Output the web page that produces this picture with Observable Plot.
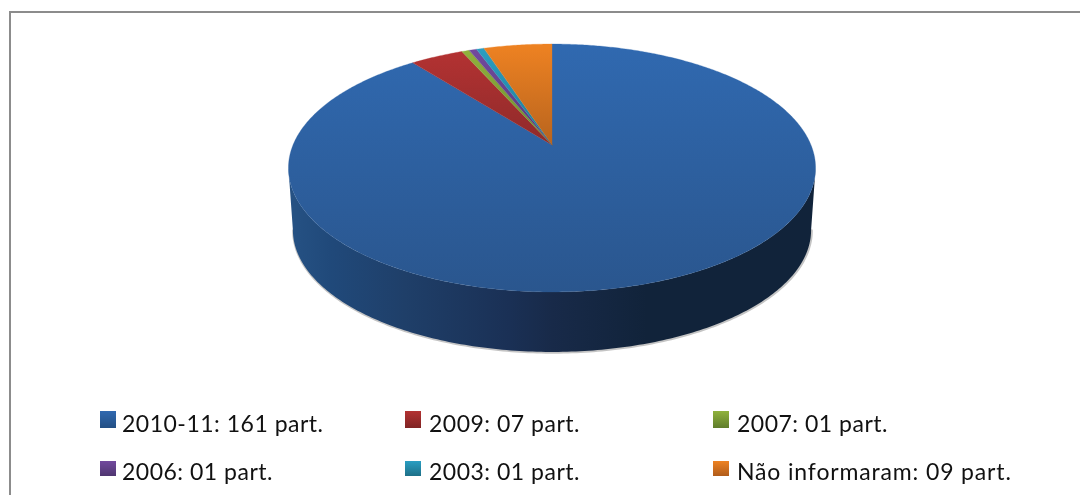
<!DOCTYPE html>
<html>
<head>
<meta charset="utf-8">
<script src="https://cdn.jsdelivr.net/npm/d3@7"></script>
<script src="https://cdn.jsdelivr.net/npm/@observablehq/plot@0.6"></script>
<style>
html,body{margin:0;padding:0;background:#fff;overflow:hidden;width:1080px;height:495px}
#frame{position:absolute;left:9px;top:11px;width:1100px;height:520px;border:2px solid #8c8c8c;box-sizing:border-box}
#chart{position:absolute;left:0;top:0;filter:blur(0.5px)}
#legend{position:absolute;left:0;top:400px;width:1080px;height:95px;font-family:Lato,sans-serif;font-size:23px;color:#111;filter:blur(0.25px)}
.item{position:absolute;white-space:pre;line-height:26px}
.sw{position:absolute}
</style>
</head>
<body>
<div id="frame"></div>
<div id="chart"></div>
<div id="legend"></div>
<script>
const categories = ["2010-11: 161 part.", "2009: 07 part.", "2007: 01 part.", "2006: 01 part.", "2003: 01 part.", "Não informaram: 09 part."];
const values = [161, 7, 1, 1, 1, 9];
const topColors = ["#3069b0", "#b33232", "#90b23c", "#72499e", "#2a9ec2", "#ee8222"];
const bottomColors = ["#2a568e", "#8f2a2a", "#6a8a2e", "#553a78", "#1e7a96", "#b8641e"];
const swatchBottoms = ["#234f84", "#802424", "#5f7d2b", "#4f3670", "#1e7088", "#b05c1b"];
const wallStops = [[0, "#265284"], [0.08, "#20497a"], [0.22, "#1f3f69"], [0.42, "#1a3055"], [0.5, "#182a49"], [0.68, "#11233a"], [1, "#11233a"]];
const labelSpacing = [0.5, 0.5, 0.5, 0.5, 0.5, 0.85];

// perspective model of the tilted disc
const tilt = 0.1855, depth = 0.522, shrink = 0.983;
const project = (theta, s = 1, d = 0) => {
  const u = Math.sin(theta), v = Math.cos(theta), w = 1 + tilt * v;
  return {x: s * u / w, y: s * v / w - d};
};

const total = d3.sum(values);
const ends = Array.from(d3.cumsum(values));
const toAngle = (c) => (c / total) * 2 * Math.PI;

const slices = categories.map((name, i) => {
  const a0 = toAngle(i ? ends[i - 1] : 0), a1 = toAngle(ends[i]);
  const n = Math.max(2, Math.ceil((a1 - a0) / 0.01));
  return d3.range(n + 1).map((k) => {
    const p = project(a0 + (a1 - a0) * k / n);
    return {name, x: p.x, y: p.y, cx: 0, cy: 0};
  });
});

// side wall runs between the two silhouette tangents of the disc
const tangent = Math.PI / 2 + Math.asin(tilt);
const wall = d3.range(200).map((k) => {
  const t = tangent + ((2 * Math.PI - 2 * tangent) * k) / 199;
  const a = project(t), b = project(t, shrink, depth);
  return {x1: a.x, y1: a.y, x2: b.x, y2: b.y};
});

const gradients = () => {
  const defs = d3.create("svg:defs");
  categories.forEach((_, i) => {
    const g = defs.append("linearGradient").attr("id", `s${i}`).attr("x1", 0).attr("x2", 0).attr("y1", 0).attr("y2", 1);
    g.append("stop").attr("offset", 0).attr("stop-color", topColors[i]);
    g.append("stop").attr("offset", 1).attr("stop-color", bottomColors[i]);
  });
  const w = defs.append("linearGradient").attr("id", "wall").attr("x1", 0).attr("x2", 1).attr("y1", 0).attr("y2", 0);
  wallStops.forEach(([o, c]) => w.append("stop").attr("offset", o).attr("stop-color", c));
  return defs.node();
};

const plot = Plot.plot({
  width: 1080,
  height: 400,
  margin: 0,
  x: {domain: [-1, 1], range: [293, 811], axis: null},
  y: {domain: [-1, 1], range: [264.7, 25.3], axis: null},
  style: {background: "transparent"},
  marks: [
    gradients,
    Plot.line(wall, {x: "x2", y: "y2", stroke: "#555", strokeOpacity: 0.35, strokeWidth: 2.5}),
    Plot.area(wall, {x1: "x1", y1: "y1", x2: "x2", y2: "y2", fill: "url(#wall)"}),
    ...slices.map((s, i) => Plot.area(s, {x1: "x", y1: "y", x2: "cx", y2: "cy", fill: `url(#s${i})`, stroke: `url(#s${i})`, strokeWidth: 0.3}))
  ]
});
document.getElementById("chart").appendChild(plot);

// legend, two rows of three
const colLeft = [100, 405, 713], textLeft = [122, 429, 737];
const rowTop = [11, 61], rowHeight = [17, 15], textTop = [10, 58];
const legend = document.getElementById("legend");
categories.forEach((name, i) => {
  const c = i % 3, r = Math.floor(i / 3);
  const sw = document.createElement("div");
  sw.className = "sw";
  sw.style.cssText = `left:${colLeft[c]}px;top:${rowTop[r]}px;width:16px;height:${rowHeight[r]}px;background:linear-gradient(${topColors[i]},${swatchBottoms[i]})`;
  legend.appendChild(sw);
  const t = document.createElement("div");
  t.className = "item";
  t.style.cssText = `left:${textLeft[c]}px;top:${textTop[r]}px;letter-spacing:${labelSpacing[i]}px`;
  t.textContent = name;
  legend.appendChild(t);
});
</script>
</body>
</html>
